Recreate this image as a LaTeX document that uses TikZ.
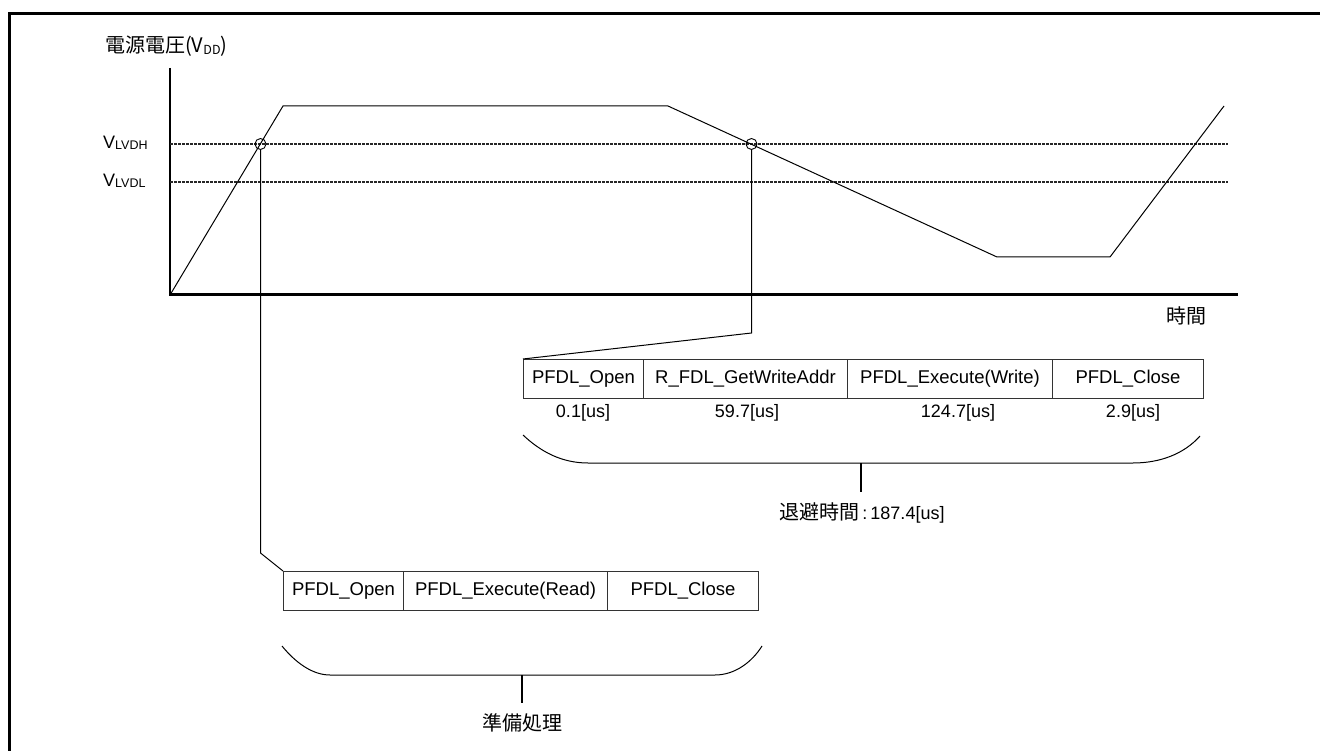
\documentclass[tikz,border=0pt]{standalone}
\usepackage{fontspec}
\setmainfont{Liberation Sans}
\newfontfamily\jpfont{Noto Sans CJK JP}
\newcommand\lowsub[2][1pt]{\raisebox{-#1}{\fontsize{12.5}{13}\selectfont #2}}
\tikzset{
  frameline/.style={line width=3.2pt},
  axisline/.style={line width=2.4pt},
  lvl/.style={line width=2pt, black!85, dash pattern=on 3pt off 1pt},
  vcurve/.style={line width=1pt},
  xcirc/.style={circle, draw, line width=0.9pt, minimum size=11pt, inner sep=0pt},
  cell/.style={draw=black!80, line width=1pt, minimum height=38.5pt, inner sep=0pt,
               anchor=north west, font=\fontsize{18.5}{20}\selectfont},
  tlabel/.style={inner sep=0pt, font=\fontsize{18}{20}\selectfont},
  jlabel/.style={inner sep=0pt, font=\jpfont\fontsize{20}{22}\selectfont},
  conn/.style={line width=1pt},
  stemline/.style={line width=2pt},
}
\begin{document}
\begin{tikzpicture}[x=1pt, y=-1pt]
\useasboundingbox (0,0) rectangle (1320,751);
\clip (0,0) rectangle (1320,751);
% frame
\draw[frameline] (9.5,800) -- (9.5,13.5) -- (1340,13.5);
% axes
\draw[axisline] (169.7,68) -- (169.7,294.7) -- (1238,294.7);
% levels
\draw[lvl] (170,144) -- (1228,144);
\draw[lvl] (170,182) -- (1228,182);
% labels
\node[anchor=base west, inner sep=0pt, font=\jpfont\fontsize{20}{22}\selectfont] (title) at (105,53) {電源電圧(V\lowsub[2pt]{DD})};
\node[anchor=base west, inner sep=0pt, font=\fontsize{18}{20}\selectfont] (vh) at (103,149) {V\lowsub{LVDH}};
\node[anchor=base west, inner sep=0pt, font=\fontsize{18}{20}\selectfont] (vl) at (103,187) {V\lowsub{LVDL}};
\node[jlabel] (tlab) at (1186,316) {時間};
% voltage curve
\draw[vcurve] (170,295) -- (283,106) -- (668,106) -- (997,257) -- (1110,257) -- (1224,106);
% crossing circles
\node[xcirc] (c1) at (260.5,144) {};
\node[xcirc] (c2) at (751.5,144) {};
% upper block
\node[cell, minimum width=120pt] (up1) at (523,359) {PFDL\_Open};
\node[cell, minimum width=204pt] (up2) at (643,359) {R\_FDL\_GetWriteAddr};
\node[cell, minimum width=205pt] (up3) at (847,359) {PFDL\_Execute(Write)};
\node[cell, minimum width=151pt] (up4) at (1052,359) {PFDL\_Close};
\node[tlabel] (t1) at (583,413) {0.1[us]};
\node[tlabel] (t2) at (747,413) {59.7[us]};
\node[tlabel] (t3) at (958,413) {124.7[us]};
\node[tlabel] (t4) at (1133,413) {2.9[us]};
% lower block
\node[cell, minimum width=120pt] (lo1) at (283,571) {PFDL\_Open};
\node[cell, minimum width=204pt] (lo2) at (403,571) {PFDL\_Execute(Read)};
\node[cell, minimum width=151pt] (lo3) at (607,571) {PFDL\_Close};
% connectors
\coordinate (k1) at (260.5,553);
\coordinate (k2) at (751.5,333);
\draw[conn] (c1.south) -- (k1) -- (lo1.north west);
\draw[conn] (c2.south) -- (k2) -- (up1.north west);
% upper brace
\coordinate (ub1) at (523,435);
\coordinate (ub2) at (588,463);
\coordinate (ub3) at (1133,463);
\coordinate (ub4) at (1200,436);
\coordinate (us1) at (861,463);
\coordinate (us2) at (861,492);
\draw[conn] (ub1) .. controls (541,452) and (562,463) .. (ub2) -- (ub3) .. controls (1160,463) and (1184,454) .. (ub4);
\draw[stemline] (us1) -- (us2);
\node[inner sep=0pt, font=\fontsize{18}{20}\selectfont] (ulab) at (862,513) {{\jpfont\fontsize{20}{22}\selectfont 退避時間}\kern3pt:\kern3pt187.4[us]};
% lower brace
\coordinate (lb1) at (282,646);
\coordinate (lb2) at (330,675);
\coordinate (lb3) at (715,675);
\coordinate (lb4) at (762,646);
\coordinate (ls1) at (522,675);
\coordinate (ls2) at (522,703);
\draw[conn] (lb1) .. controls (295,662) and (312,675) .. (lb2) -- (lb3) .. controls (735,675) and (752,662) .. (lb4);
\draw[stemline] (ls1) -- (ls2);
\node[jlabel] (llab) at (522,723) {準備処理};
\end{tikzpicture}
\end{document}
